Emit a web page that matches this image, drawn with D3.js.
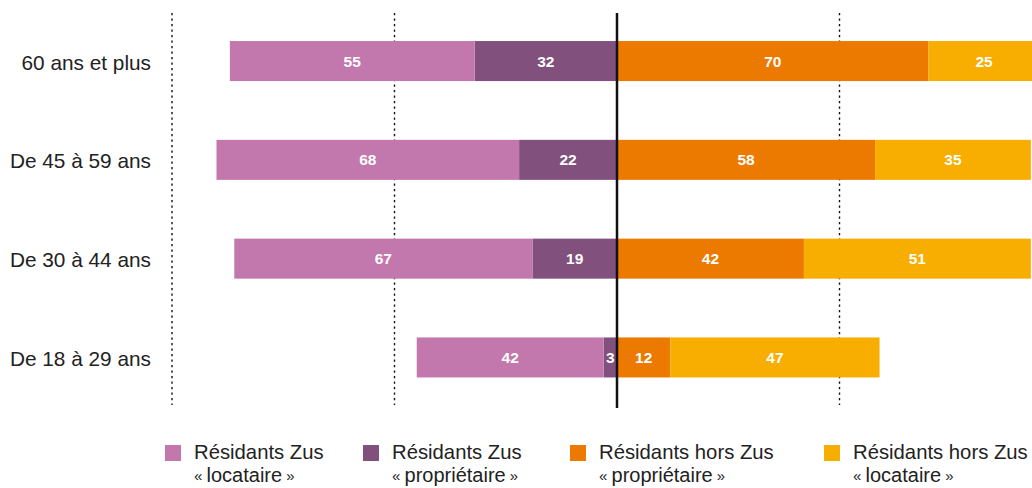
<!DOCTYPE html>
<html>
<head>
<meta charset="utf-8">
<script src="https://cdn.jsdelivr.net/npm/d3@7"></script>
<style>
  html, body { margin: 0; padding: 0; background: #fff; }
  svg { display: block; font-family: "Liberation Sans", Arial, Helvetica, sans-serif; }
</style>
</head>
<body>
<svg id="chart" width="1032" height="488"></svg>
<script>
const categories = ["60 ans et plus", "De 45 à 59 ans", "De 30 à 44 ans", "De 18 à 29 ans"];
const zusLocataire = [55, 68, 67, 42];
const zusProprietaire = [32, 22, 19, 3];
const horsProprietaire = [70, 58, 42, 12];
const horsLocataire = [25, 35, 51, 47];
const gridValues = [-100, -50, 50];
const seriesNames = [
  ["Résidants Zus", "locataire"],
  ["Résidants Zus", "propriétaire"],
  ["Résidants hors Zus", "propriétaire"],
  ["Résidants hors Zus", "locataire"]
];
const colors = ["#C277AD", "#81507C", "#EC7A00", "#F7AE00"];

const svg = d3.select("#chart");
const x = d3.scaleLinear().domain([-100, 100]).range([172, 1062]);
const y = d3.scaleBand().domain(categories).range([11.4, 407.1]).paddingInner(0.595).paddingOuter(0.3);

// grid dotted lines
svg.append("g").selectAll("line").data(gridValues).join("line")
  .attr("x1", d => x(d)).attr("x2", d => x(d))
  .attr("y1", 13).attr("y2", 405)
  .attr("stroke", "#111").attr("stroke-width", 1.4)
  .attr("stroke-dasharray", "2.2,3.3");

// build segments
const segs = [];
categories.forEach((c, i) => {
  const zp = zusProprietaire[i], zl = zusLocataire[i];
  const hp = horsProprietaire[i], hl = horsLocataire[i];
  segs.push({cat: c, x0: -zp, x1: 0, v: zp, s: 1});
  segs.push({cat: c, x0: -zp - zl, x1: -zp, v: zl, s: 0});
  segs.push({cat: c, x0: 0, x1: hp, v: hp, s: 2});
  segs.push({cat: c, x0: hp, x1: hp + hl, v: hl, s: 3});
});

svg.append("g").selectAll("rect").data(segs).join("rect")
  .attr("x", d => x(d.x0))
  .attr("width", d => x(d.x1) - x(d.x0))
  .attr("y", d => y(d.cat))
  .attr("height", y.bandwidth())
  .attr("fill", d => colors[d.s]);

svg.append("g").selectAll("text").data(segs).join("text")
  .attr("x", d => (x(d.x0) + x(d.x1)) / 2)
  .attr("y", d => y(d.cat) + y.bandwidth() / 2 + 5.5)
  .attr("text-anchor", "middle")
  .attr("fill", "#fff")
  .attr("font-weight", "bold")
  .attr("font-size", 15.5)
  .text(d => d.v);

// center line
svg.append("line")
  .attr("x1", x(0)).attr("x2", x(0))
  .attr("y1", 13).attr("y2", 408)
  .attr("stroke", "#111").attr("stroke-width", 2.5);

// category labels
svg.append("g").selectAll("text").data(categories).join("text")
  .attr("x", 151)
  .attr("y", d => y(d) + y.bandwidth() / 2 + 8.5)
  .attr("text-anchor", "end")
  .attr("fill", "#222")
  .attr("font-size", 20.8)
  .text(d => d);

// legend
const legendX = [165, 363, 570, 824];
const lg = svg.append("g").selectAll("g").data(seriesNames).join("g")
  .attr("transform", (d, i) => `translate(${legendX[i]},0)`);
lg.append("rect").attr("x", 0).attr("y", 445).attr("width", 16).attr("height", 16)
  .attr("fill", (d, i) => colors[i]);
lg.append("text").attr("x", 29).attr("y", 459).attr("font-size", 20.3).attr("fill", "#222")
  .text(d => d[0]);
const l2 = lg.append("text").attr("x", 29).attr("y", 482).attr("font-size", 20).attr("fill", "#222");
l2.append("tspan").attr("font-size", 15).attr("dy", -1).text("« ");
l2.append("tspan").attr("dy", 1).text(d => d[1]);
l2.append("tspan").attr("font-size", 15).attr("dy", -1).text(" »");
</script>
</body>
</html>
